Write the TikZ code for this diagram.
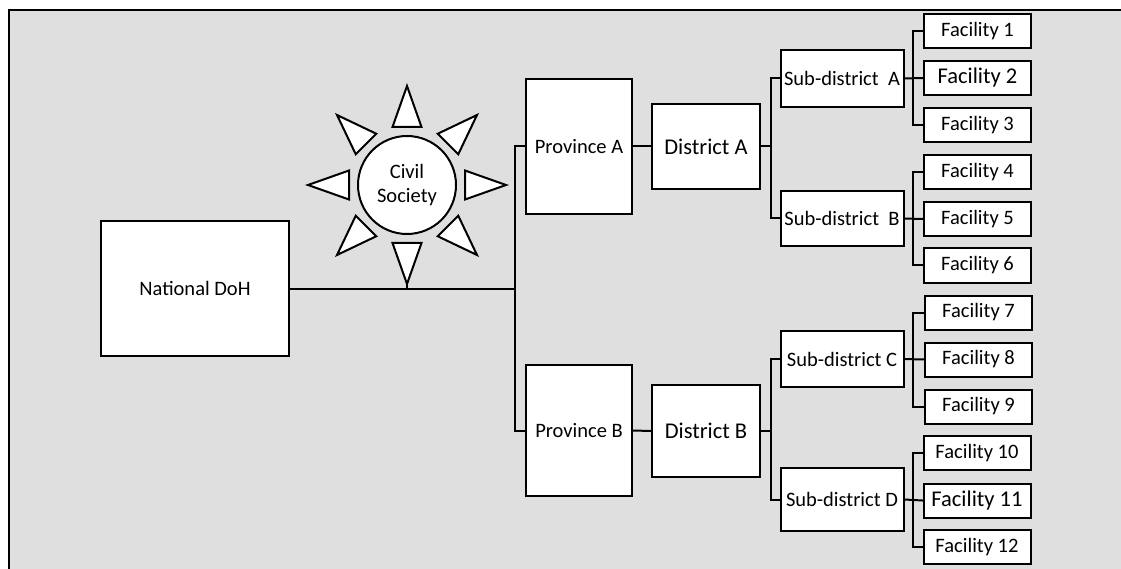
\documentclass[tikz,border=0pt]{standalone}
\usepackage{fontspec}
\setmainfont{Carlito}
\usetikzlibrary{calc}
\definecolor{bggray}{RGB}{223,223,223}
\tikzset{
  box/.style={draw=black, fill=white, line width=2pt, inner sep=0pt, align=center,
    font=\fontsize{20.5}{24}\selectfont},
  big/.style={font=\fontsize{22.5}{26}\selectfont},
  fac/.style={box, minimum width=107pt, minimum height=34pt},
  sub/.style={box, minimum width=123pt},
  link/.style={line width=2pt, line cap=rect},
  ray/.style={draw=black, fill=white, line width=2pt, line join=miter},
}
\begin{document}
\begin{tikzpicture}[x=1pt,y=-1pt]
\useasboundingbox (0,0) rectangle (1121,569);
\fill[white] (0,0) rectangle (1121,569);
\fill[bggray] (9,10) rectangle (1121,569);
\draw[line width=1.5pt] (9,569) -- (9,10) -- (1121,10);

% nodes
\node[box, minimum width=188pt, minimum height=134pt] (natl) at (195,288.5) {National DoH};
\node[box, circle, minimum size=98pt] (cs) at (407,185) {Civil\\Society};
\node[box, minimum width=106pt, minimum height=135pt] (provA) at (579,146.5) {Province A};
\node[box, minimum width=106pt, minimum height=131pt] (provB) at (579,430.5) {Province B};
\node[box, big, minimum width=108pt, minimum height=85pt] (distA) at (706,146.5) {District A};
\node[box, big, minimum width=108pt, minimum height=92pt] (distB) at (706,431) {District B};
\node[sub, minimum height=57pt] (subA) at (842,78.5) {Sub-district\ \ A};
\node[sub, minimum height=55pt] (subB) at (842,218.5) {Sub-district\ \ B};
\node[sub, minimum height=56pt] (subC) at (842,359) {Sub-district C};
\node[sub, minimum height=63pt] (subD) at (842,499.5) {Sub-district D};
\node[fac] (f1) at (977.5,31) {Facility 1};
\node[fac, big] (f2) at (977.5,78) {Facility 2};
\node[fac] (f3) at (977.5,125) {Facility 3};
\node[fac] (f4) at (977.5,172) {Facility 4};
\node[fac] (f5) at (977.5,219) {Facility 5};
\node[fac] (f6) at (977.5,265.5) {Facility 6};
\node[fac] (f7) at (978.5,312.5) {Facility 7};
\node[fac] (f8) at (978.5,359.5) {Facility 8};
\node[fac] (f9) at (978.5,406.5) {Facility 9};
\node[fac] (f10) at (977,453) {Facility 10};
\node[fac, big] (f11) at (977,500.5) {Facility 11};
\node[fac] (f12) at (977,547) {Facility 12};

% sun rays
\foreach \a in {0,45,...,315}{
  \begin{scope}[shift={(cs.center)}, rotate=\a]
    \draw[ray] (58,-14.5) -- (99,0) -- (58,14.5) -- cycle;
  \end{scope}
}
\coordinate (foot) at ($(cs.center)+(0,99)$);

% buses
\coordinate (b1) at (515,0);
\coordinate (b2) at (771,0);
\coordinate (b3) at (913,0);
\coordinate (b4) at (913,0);

\draw[link] (natl.east) -- (natl.east -| b1);
\draw[link] (foot) -- (foot |- natl.east);
\draw[link] (provA.west) -- (provA.west -| b1) -- (provB.west -| b1) -- (provB.west);
\draw[link] (provA.east) -- (distA.west);
\draw[link] (provB.east) -- (distB.west);

\draw[link] (distA.east) -- (distA.east -| b2);
\draw[link] (subA.west) -- (subA.west -| b2) -- (subB.west -| b2) -- (subB.west);
\draw[link] (distB.east) -- (distB.east -| b2);
\draw[link] (subC.west) -- (subC.west -| b2) -- (subD.west -| b2) -- (subD.west);

\foreach \s/\a/\b/\c in {subA/f1/f2/f3, subB/f4/f5/f6, subC/f7/f8/f9, subD/f10/f11/f12}{
  \draw[link] (\s.east) -- (\b.west);
  \draw[link] (\a.west) -- (\a.west -| b3) -- (\c.west -| b3) -- (\c.west);
}
\end{tikzpicture}
\end{document}
